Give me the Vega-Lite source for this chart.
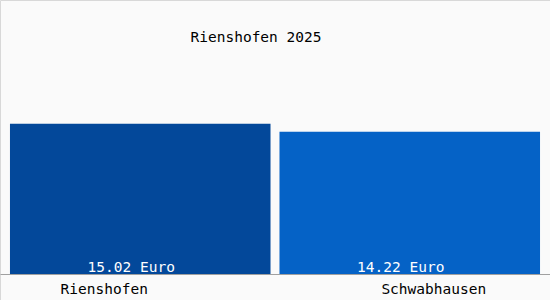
{
  "$schema": "https://vega.github.io/schema/vega-lite/v6.json",
  "width": 550,
  "height": 300,
  "autosize": "none",
  "padding": 0,
  "background": "#fafafa",
  "title": {
    "text": "Rienshofen 2025",
    "offset": -56,
    "dx": -19,
    "baseline": "alphabetic",
    "font": "DejaVu Sans Mono",
    "fontSize": 14.5,
    "fontWeight": "normal",
    "color": "#000000"
  },
  "config": {
    "view": {"stroke": "#d8d8d8", "strokeWidth": 1}
  },
  "data": {
    "values": [
      {"ort": "Rienshofen", "wert": 15.02, "label": "15.02 Euro"},
      {"ort": "Schwabhausen", "wert": 14.22, "label": "14.22 Euro"}
    ]
  },
  "encoding": {
    "x": {
      "field": "ort",
      "type": "nominal",
      "sort": null,
      "scale": {"paddingInner": 0.0333, "paddingOuter": 0.037},
      "axis": {
        "title": null,
        "orient": "bottom",
        "offset": -26,
        "domainColor": "#a0a0a0",
        "domainWidth": 1,
        "ticks": false,
        "labelAngle": 0,
        "labelFont": "DejaVu Sans Mono",
        "labelFontSize": 14.5,
        "labelColor": "#000000",
        "labelPadding": 8,
        "labelOffset": {"expr": "datum.value == 'Rienshofen' ? -36 : 24"}
      }
    }
  },
  "layer": [
    {
      "mark": {"type": "bar"},
      "encoding": {
        "y": {
          "field": "wert",
          "type": "quantitative",
          "scale": {"domain": [-2.6, 27.4], "nice": false, "zero": false},
          "axis": null
        },
        "y2": {"datum": 0},
        "color": {
          "field": "ort",
          "type": "nominal",
          "scale": {"domain": ["Rienshofen", "Schwabhausen"], "range": ["#03489a", "#0562c6"]},
          "legend": null
        }
      }
    },
    {
      "mark": {
        "type": "text",
        "baseline": "alphabetic",
        "dy": -2,
        "dx": -9,
        "font": "DejaVu Sans Mono",
        "fontSize": 14.5,
        "color": "#ffffff"
      },
      "encoding": {
        "y": {"datum": 0, "type": "quantitative"},
        "text": {"field": "label", "type": "nominal"}
      }
    }
  ]
}
